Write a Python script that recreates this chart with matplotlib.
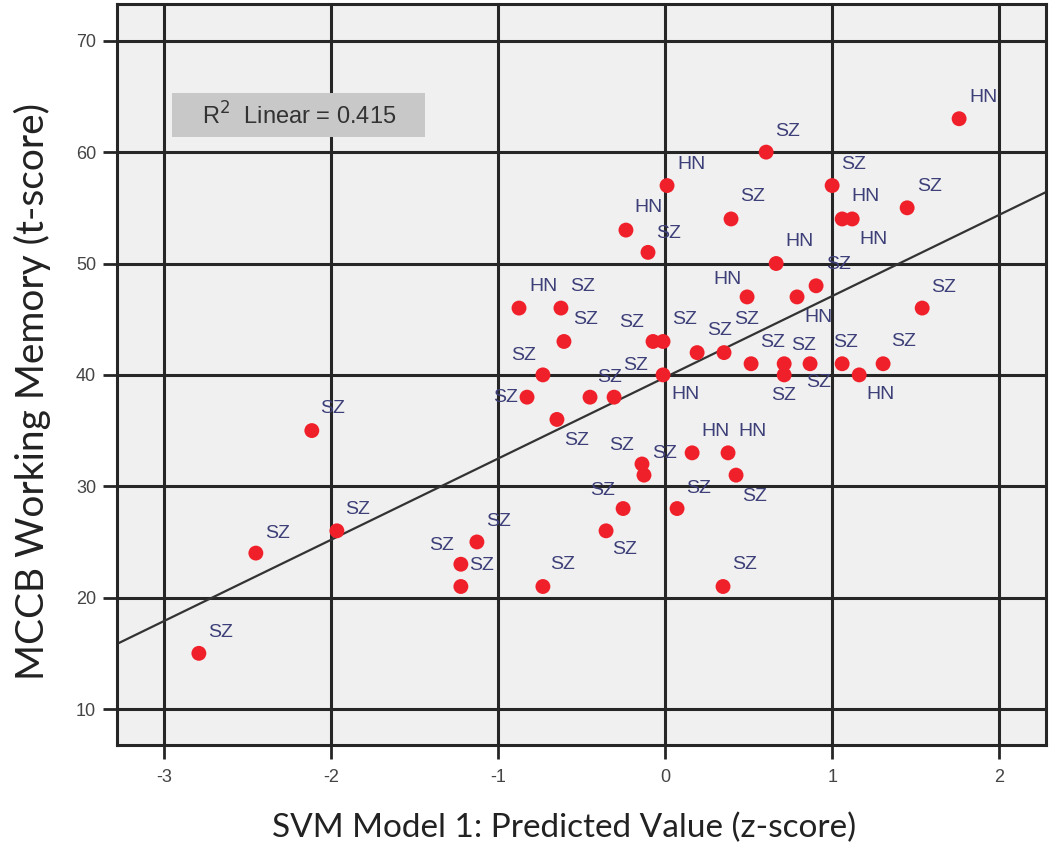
import numpy as np
import matplotlib
matplotlib.use("Agg")
import matplotlib.pyplot as plt
from matplotlib.patches import Rectangle

# ---------------- data ----------------
pred = [1.760, 0.605, 0.012, 1.000, 1.449, 0.395, 1.060, 1.120, -0.234, -0.102,
        0.665, 0.904, 0.491, 0.790, -0.874, -0.623, 1.539, -0.605, -0.072, -0.012,
        0.192, 0.353, 0.515, 0.713, 0.713, 0.868, 1.060, 1.162, 1.305, -0.731,
        -0.826, -0.449, -0.305, -0.012, -0.647, -0.138, -0.126, 0.162, 0.377, 0.425,
        -0.251, 0.072, -0.353, -1.126, -1.222, -1.222, -0.731, 0.347, -2.114, -1.964,
        -2.449, -2.790]
wm = [63, 60, 57, 57, 55, 54, 54, 54, 53, 51,
      50, 48, 47, 47, 46, 46, 46, 43, 43, 43,
      42, 42, 41, 41, 40, 41, 41, 40, 41, 40,
      38, 38, 38, 40, 36, 32, 31, 33, 33, 31,
      28, 28, 26, 25, 23, 21, 21, 21, 35, 26,
      24, 15]
group = ["HN", "SZ", "HN", "SZ", "SZ", "SZ", "HN", "HN", "HN", "SZ",
         "HN", "SZ", "HN", "HN", "HN", "SZ", "SZ", "SZ", "SZ", "SZ",
         "SZ", "SZ", "SZ", "SZ", "SZ", "SZ", "SZ", "HN", "SZ", "SZ",
         "SZ", "SZ", "SZ", "HN", "SZ", "SZ", "SZ", "HN", "HN", "SZ",
         "SZ", "SZ", "SZ", "SZ", "SZ", "SZ", "SZ", "SZ", "SZ", "SZ",
         "SZ", "SZ"]
r2_text = "0.415"
x_ticks = [-3, -2, -1, 0, 1, 2]
y_ticks = [10, 20, 30, 40, 50, 60, 70]
x_title = "SVM Model 1: Predicted Value (z-score)"
y_title = "MCCB Working Memory (t-score)"

# label offsets in pixels (dx right, dy down) relative to each point
label_off = [(24, -21), (21, -21), (24, -21), (21, -21), (22, -21), (22, -22), (23, -22), (21, 21), (23, -23), (21, -19),
             (23, -22), (22, -21), (-20, -17), (21, 21), (24, -22), (22, -22), (21, -21), (22, -22), (-21, -19), (22, -22),
             (22, -22), (23, -33), (21, -21), (19, -18), (-1, 21), (8, 19), (3, -21), (21, 20), (20, -22), (-19, -19),
             (-21, 0), (20, -20), (21, -32), (22, 20), (20, 21), (-20, -18), (21, -22), (23, -21), (24, -21), (19, 21),
             (-21, -18), (21, -20), (19, 19), (22, -20), (-19, -19), (21, -21), (20, -22), (22, -22), (21, -22), (21, -21),
             (22, -20), (22, -21)]

plt.rcParams['axes.unicode_minus'] = False

W, H = 1050, 850
fig = plt.figure(figsize=(W / 100, H / 100), dpi=100)
fig.patch.set_facecolor('white')
L, R, T, B = 117, 1046, 4, 745
ax = fig.add_axes([L / W, 1 - B / H, (R - L) / W, (B - T) / H])
ax.set_facecolor('#f0f0f0')
ax.set_xlim(-3.28, 2.28)
ax.set_ylim(6.77, 73.3)
ax.set_xticks(x_ticks)
ax.set_yticks(y_ticks)
ax.set_axisbelow(True)
gridc = '#262626'
ax.grid(True, color=gridc, lw=2.2)
for s in ax.spines.values():
    s.set_color(gridc)
    s.set_linewidth(2.2)
ax.tick_params(axis='both', direction='out', length=10, width=2, color=gridc,
               labelsize=13, labelcolor='#444444')
ax.tick_params(axis='x', pad=7)
ax.tick_params(axis='y', pad=5)
for lab in ax.get_xticklabels() + ax.get_yticklabels():
    lab.set_family('Liberation Sans')

# regression line
xa = np.array(pred)
ya = np.array(wm, dtype=float)
slope, intercept = np.polyfit(xa, ya, 1)
xl = np.array(ax.get_xlim())
ax.plot(xl, intercept + slope * xl, color='#333333', lw=1.6, zorder=2)

# points
ax.scatter(pred, wm, s=115, color='#f0202a', edgecolors='none', zorder=3)

# labels
for xv, yv, g, (dx, dy) in zip(pred, wm, group, label_off):
    ax.annotate(g, (xv, yv), xytext=(dx * 0.72, -dy * 0.72), textcoords='offset points',
                ha='center', va='center', fontsize=14, color='#3d3f78',
                family='Liberation Sans', zorder=4)

# R^2 box
ax.add_patch(Rectangle((0.0592, 0.8205), 0.2723, 0.0594, transform=ax.transAxes,
                       facecolor='#c8c8c8', edgecolor='none', zorder=1.5))
ax.text(0.196, 0.849, r"R$^2$  Linear = " + r2_text, transform=ax.transAxes,
        ha='center', va='center', fontsize=17, color='#333333',
        family='Liberation Sans', zorder=2.5)

fig.text(564 / W, 1 - 828 / H, x_title, fontsize=24, family='Lato', color='#222222',
         ha='center', va='center')
fig.text(32 / W, 1 - 392 / H, y_title, fontsize=28, family='Lato', color='#222222',
         ha='center', va='center', rotation=90)

fig.savefig('out.png', dpi=100)
